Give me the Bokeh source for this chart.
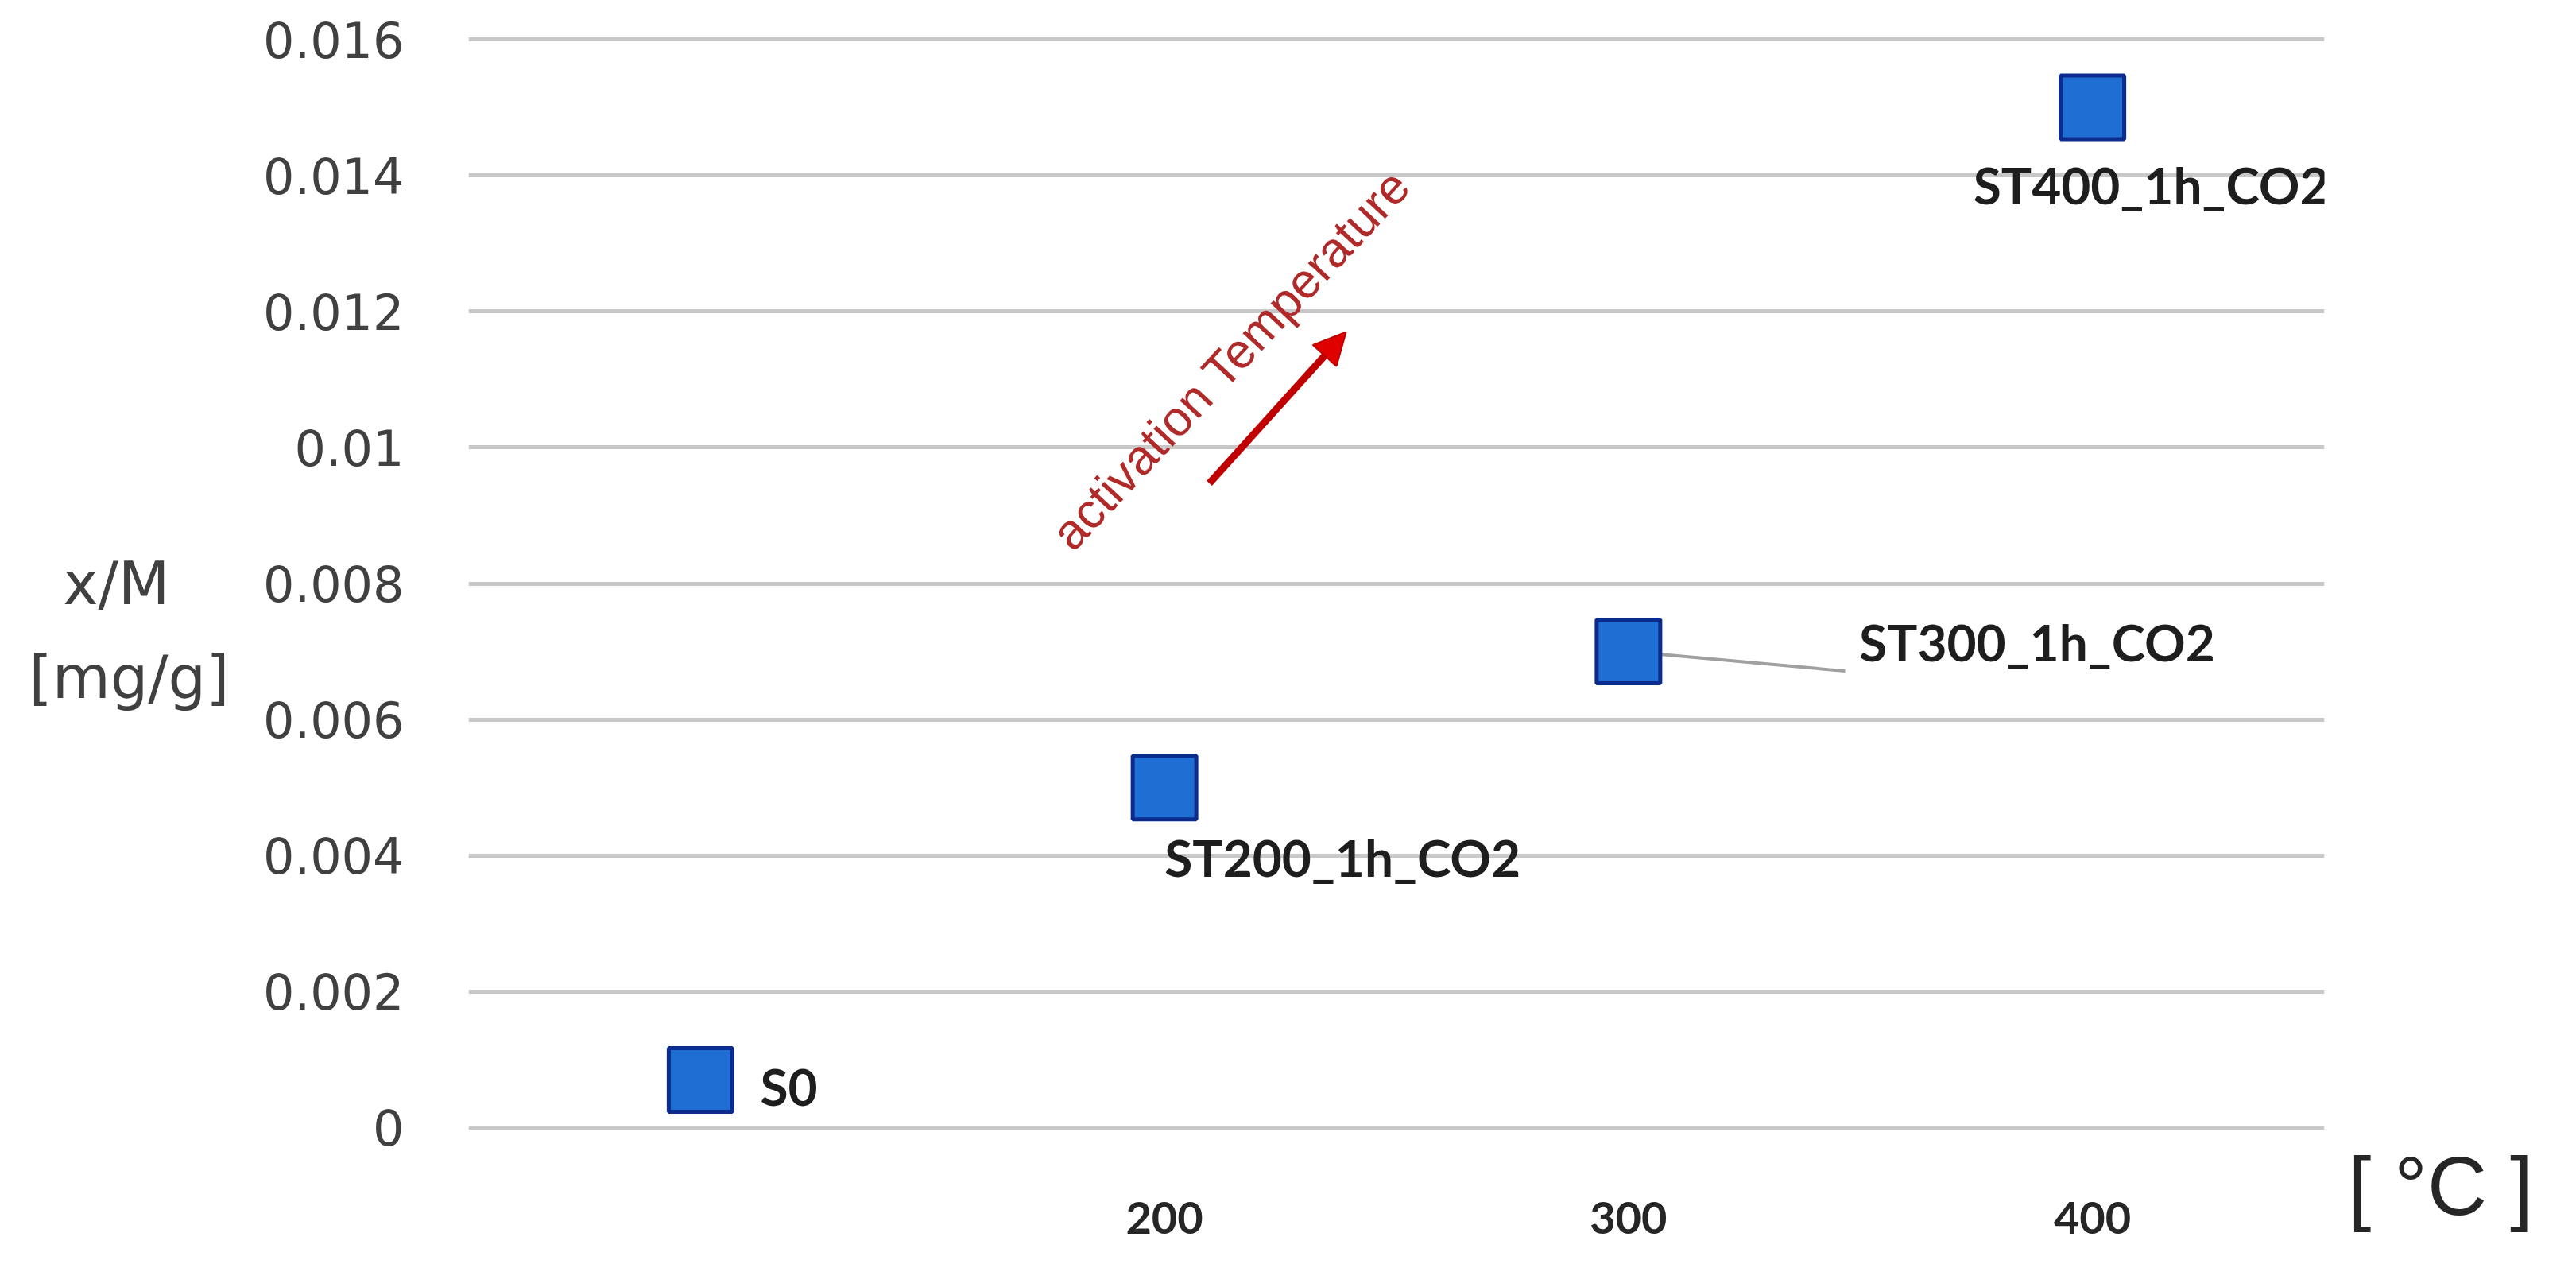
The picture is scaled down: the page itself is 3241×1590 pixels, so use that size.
from bokeh.plotting import figure
from bokeh.models import (ColumnDataSource, Range1d, FixedTicker, Label, LabelSet,
                          Arrow, NormalHead, LinearAxis)
from bokeh.core.properties import value
from bokeh.embed import file_html
from bokeh.resources import INLINE

# ---- data ----
categories = ["S0", "200", "300", "400"]
x_tick_labels = ["", "200", "300", "400"]
xm_values = [0.0007, 0.005, 0.007, 0.015]
point_labels = ["S0", "ST200_1h_CO2", "ST300_1h_CO2", "ST400_1h_CO2"]
y_ticks = [0, 0.002, 0.004, 0.006, 0.008, 0.010, 0.012, 0.014, 0.016]
y_tick_labels = ["0", "0.002", "0.004", "0.006", "0.008", "0.01", "0.012", "0.014", "0.016"]
y_title_lines = ["x/M", "[mg/g]"]
x_unit_label = "[ °C ]"
arrow_text = "activation Temperature"

# ---- styling / layout (kept separate from data) ----
label_dx = [75, 0, 290, -150]      # screen px, to the right
label_dy = [8, 88, -12, 97]        # screen px, downward
FRAME_W, FRAME_H = 2335, 1377
PAD_Y = 0.0000468
UNIT_LABEL_SHIFT_LINES = 14        # blank lines that push the unit label down level with x labels
EN = "\u2002"                      # fixed-width space used to centre the short first title line

# category slots on a numeric axis: each category occupies one unit
x_pos = [i + 0.5 for i in range(len(categories))]

p = figure(x_range=Range1d(0, len(categories)),
           y_range=Range1d(-PAD_Y, 0.016 + PAD_Y),
           frame_width=FRAME_W, frame_height=FRAME_H,
           min_border_left=589, min_border_right=301,
           min_border_top=45, min_border_bottom=152,
           output_backend="svg", toolbar_location=None)
p.outline_line_color = None
p.background_fill_color = "white"
p.border_fill_color = "white"

# axes
p.xaxis.ticker = FixedTicker(ticks=x_pos)
p.xaxis.major_label_overrides = dict(zip(x_pos, x_tick_labels))
p.xaxis.axis_line_color = None
p.xaxis.major_tick_line_color = None
p.xaxis.minor_tick_line_color = None
p.xaxis.major_label_text_font = "Lato"
p.xaxis.major_label_text_font_style = "bold"
p.xaxis.major_label_text_font_size = "56px"
p.xaxis.major_label_text_color = "#262626"
p.xaxis.major_label_standoff = 83

p.yaxis.ticker = FixedTicker(ticks=y_ticks)
p.yaxis.major_label_overrides = dict(zip(y_ticks, y_tick_labels))
p.yaxis.axis_line_color = None
p.yaxis.major_tick_line_color = None
p.yaxis.minor_tick_line_color = None
p.yaxis.major_label_text_font = "DejaVu Sans"
p.yaxis.major_label_text_font_size = "62px"
p.yaxis.major_label_text_color = "#404040"
p.yaxis.major_label_standoff = 75

# y title: a tick-less axis whose label sits horizontally left of the tick labels
y_title_text = "\n" + y_title_lines[0] + EN * 2 + "\n" + y_title_lines[1]
title_axis = LinearAxis(ticker=FixedTicker(ticks=[]),
                        axis_label=y_title_text, axis_label_orientation="horizontal",
                        axis_label_standoff=40,
                        axis_label_text_font="DejaVu Sans", axis_label_text_font_size="75px",
                        axis_label_text_font_style="normal", axis_label_text_color="#404040",
                        axis_label_text_line_height=1.34,
                        axis_line_color=None, major_tick_line_color=None,
                        minor_tick_line_color=None, major_label_standoff=0)
p.add_layout(title_axis, "left")

# unit label: a tick-less axis on the right whose label sits level with the x labels
unit_axis = LinearAxis(ticker=FixedTicker(ticks=[]),
                       axis_label="\n" * UNIT_LABEL_SHIFT_LINES + x_unit_label,
                       axis_label_orientation="horizontal",
                       axis_label_standoff=30,
                       axis_label_text_font="Liberation Sans", axis_label_text_font_size="104px",
                       axis_label_text_font_style="normal", axis_label_text_color="#262626",
                       axis_label_text_line_height=0.933,
                       axis_line_color=None, major_tick_line_color=None,
                       minor_tick_line_color=None, major_label_standoff=0)
p.add_layout(unit_axis, "right")

p.xgrid.grid_line_color = None
p.ygrid.ticker = FixedTicker(ticks=y_ticks)
p.ygrid.grid_line_color = "#C8C8C8"
p.ygrid.grid_line_width = 5

# leader line for ST300 label
p.segment(x0=[x_pos[2]], y0=[xm_values[2]], x1=[2.967], y1=[0.006713],
          line_color="#A0A0A0", line_width=4)

src = ColumnDataSource(dict(x=x_pos, val=xm_values, lab=point_labels,
                            dx=label_dx, dy=[-d for d in label_dy]))
p.scatter(x="x", y="val", source=src, marker="square", size=80,
          fill_color="#1F6ED4", line_color="#0B2C8C", line_width=5)
p.add_layout(LabelSet(x="x", y="val", text="lab", source=src,
                      x_offset="dx", y_offset="dy",
                      text_align="left", text_baseline="middle",
                      text_font=value("Lato"), text_font_style="bold",
                      text_font_size="64px", text_color="#1E1E1E"))

# arrow + rotated text
p.add_layout(Arrow(end=NormalHead(size=40, fill_color="#E00000", line_color="#C00000", line_width=2),
                   x_start=1.5966, y_start=0.009474, x_end=1.8912, y_end=0.011696,
                   line_color="#C00000", line_width=9))
p.add_layout(Label(x=1.6428, y=0.011298, text=arrow_text, angle=47, angle_units="deg",
                   text_align="center", text_baseline="middle",
                   text_font="Liberation Sans", text_font_size="62px",
                   text_color="#B02A2A"))

open("out.html", "w").write(file_html(p, INLINE))
